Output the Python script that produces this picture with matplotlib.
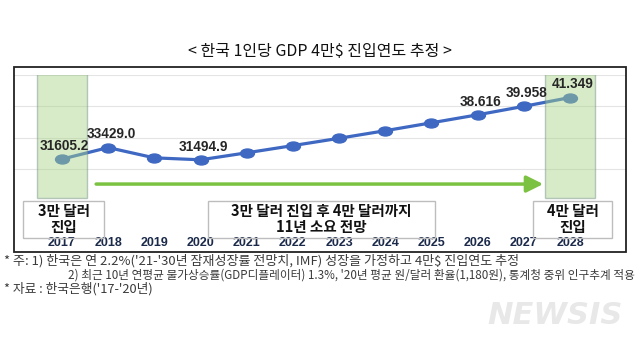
import matplotlib
matplotlib.use("Agg")
import matplotlib.pyplot as plt
import matplotlib.transforms as mtransforms
from matplotlib.patches import Rectangle
from matplotlib.path import Path

plt.rcParams['font.family'] = ['Noto Sans CJK KR', 'DejaVu Sans']

# ---- data ----
years = [2017, 2018, 2019, 2020, 2021, 2022, 2023, 2024, 2025, 2026, 2027, 2028]
gdp = [31605.2, 33429.0, 31800, 31494.9, 32600, 33740, 34900, 36100, 37350, 38616, 39958, 41349]
label_idx = [0, 1, 3, 9, 10, 11]
label_txt = ["31605.2", "33429.0", "31494.9", "38.616", "39.958", "41.349"]
stage_txt = ["3만 달러\n진입", "3만 달러 진입 후 4만 달러까지\n11년 소요 전망", "4만 달러\n진입"]
title = "< 한국 1인당 GDP 4만$ 진입연도 추정 >"
notes = ["* 주: 1) 한국은 연 2.2%('21-'30년 잠재성장률 전망치, IMF) 성장을 가정하고 4만$ 진입연도 추정",
         "2) 최근 10년 연평균 물가상승률(GDP디플레이터) 1.3%, '20년 평균 원/달러 환율(1,180원), 통계청 중위 인구추계 적용",
         "* 자료 : 한국은행('17-'20년)"]

LINE = "#3e68c2"
GREEN = "#7cc242"
BOXF = "#a8d488"
W, H = 640, 345


def fx(x):
    return x / W


def fy(y):
    return 1 - y / H


fig = plt.figure(figsize=(6.4, 3.45), dpi=100)
fig.patch.set_facecolor("white")

ax = fig.add_axes([fx(14), fy(200.8), 612 / W, (200.8 - 74.5) / H])
ax.set_xlim(2015.961, 2029.213)
ax.set_ylim(25000, 45000)
ax.set_yticks([30000, 35000, 40000, 45000])
ax.set_xticks([])
ax.tick_params(length=0, labelleft=False)
ax.grid(axis="y", color="#e4e4e4", lw=0.8)
for s in ax.spines.values():
    s.set_visible(False)

# ellipse marker
uc = Path.unit_circle()
ell = Path(uc.vertices * [1.55, 1.0], uc.codes)

ax.plot(years, gdp, color=LINE, lw=2.3, marker=ell, ms=10, zorder=3)

for yr in (years[0], years[-1]):
    ax.axvspan(yr - 0.55, yr + 0.55, ymin=0.02, ymax=1.0, fc=BOXF, ec="#6f8c80",
               lw=1.0, alpha=0.45, zorder=4)

for i, t in zip(label_idx, label_txt):
    ax.annotate(t, (years[i], gdp[i]), xytext=(2, 9.5), textcoords="offset points",
                ha="center", va="center", fontsize=9.8, fontweight="bold",
                family="Liberation Sans", color="#262626", zorder=5)

ax.annotate("", xy=(years[-1] - 0.58, 27650), xytext=(years[0] + 0.74, 27650),
            arrowprops=dict(arrowstyle="-|>,head_length=1.0,head_width=0.5",
                            color=GREEN, lw=2.5, shrinkA=0, shrinkB=0), zorder=3)

# year labels
tr = mtransforms.blended_transform_factory(ax.transData, fig.transFigure)
for yr in years:
    ax.text(yr, fy(243), str(yr), transform=tr, ha="center", va="center",
            fontsize=9, fontweight="bold", family="Liberation Sans", color="#1b2a4a")

# stage boxes
boxes = [(23, 104), (208, 435), (533, 612)]
for (x0, x1), t in zip(boxes, stage_txt):
    fig.add_artist(Rectangle((fx(x0), fy(238)), (x1 - x0) / W, (238 - 201) / H,
                             transform=fig.transFigure, fill=False, ec="#bdbdbd", lw=1.0))
    fig.text(fx((x0 + x1) / 2), fy(219), t, ha="center", va="center", fontsize=10.5,
             fontweight="bold", linespacing=0.95, color="#111111")

# outer frame
fig.add_artist(Rectangle((fx(14), fy(252)), 612 / W, (252 - 67) / H,
                         transform=fig.transFigure, fill=False, ec="#222222", lw=1.3))

fig.text(0.5, fy(52), title, ha="center", va="center", fontsize=11.5, color="#111111")

fig.text(fx(4), fy(261), notes[0], ha="left", va="center", fontsize=9.4, color="#3a3a3a")
fig.text(fx(68), fy(275), notes[1], ha="left", va="center", fontsize=8.4, color="#3a3a3a")
fig.text(fx(4), fy(289), notes[2], ha="left", va="center", fontsize=9.2, color="#3a3a3a")

fig.text(fx(555), fy(315), "NEWSIS", ha="center", va="center", fontsize=22,
         fontweight="heavy", style="italic", family="DejaVu Sans", color="#e8e8e8")

fig.savefig("out.png", dpi=100, facecolor="white")
